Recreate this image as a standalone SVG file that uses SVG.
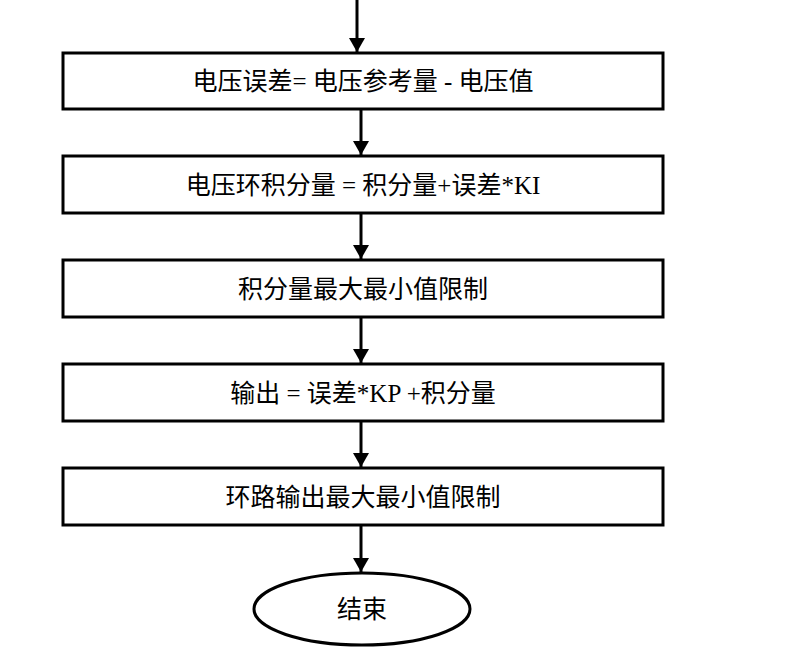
<svg xmlns="http://www.w3.org/2000/svg" width="786" height="666" viewBox="0 0 786 666">
<style>
.b{fill:#fff;stroke:#000;stroke-width:3}
.t{font-family:"Liberation Serif","Noto Sans CJK SC",serif;font-size:25px;font-weight:normal;text-anchor:middle;fill:#000}
.c{stroke:#000;stroke-width:3;fill:none;marker-end:url(#a)}
</style>
<defs><marker id="a" markerWidth="14" markerHeight="16" refX="14" refY="8" orient="auto" markerUnits="userSpaceOnUse" viewBox="0 0 14 16"><path d="M0,0 L14,8 L0,16 Z" fill="#000"/></marker></defs>
<rect width="786" height="666" fill="#fff"/>
<g id="connectors">
<line class="c" x1="357" y1="0" x2="357" y2="52"/>
<line class="c" x1="361" y1="109" x2="361" y2="155"/>
<line class="c" x1="361" y1="213" x2="361" y2="259"/>
<line class="c" x1="361" y1="317" x2="361" y2="363"/>
<line class="c" x1="361" y1="421" x2="361" y2="467"/>
<line class="c" x1="361" y1="525" x2="361" y2="572"/>
</g>
<g id="n1"><rect class="b" x="63" y="53" width="600" height="56"/><text class="t" x="363" y="90">电压误差= 电压参考量 - 电压值</text></g>
<g id="n2"><rect class="b" x="63" y="156" width="600" height="57"/><text class="t" x="363" y="194">电压环积分量 = 积分量+误差*KI</text></g>
<g id="n3"><rect class="b" x="63" y="260" width="600" height="57"/><text class="t" x="363" y="298">积分量最大最小值限制</text></g>
<g id="n4"><rect class="b" x="63" y="364" width="600" height="57"/><text class="t" x="363" y="402">输出 = 误差*KP +积分量</text></g>
<g id="n5"><rect class="b" x="63" y="468" width="600" height="57"/><text class="t" x="363" y="506">环路输出最大最小值限制</text></g>
<g id="end"><ellipse class="b" cx="362" cy="609" rx="108" ry="36"/><text class="t" x="362" y="618">结束</text></g>
</svg>
